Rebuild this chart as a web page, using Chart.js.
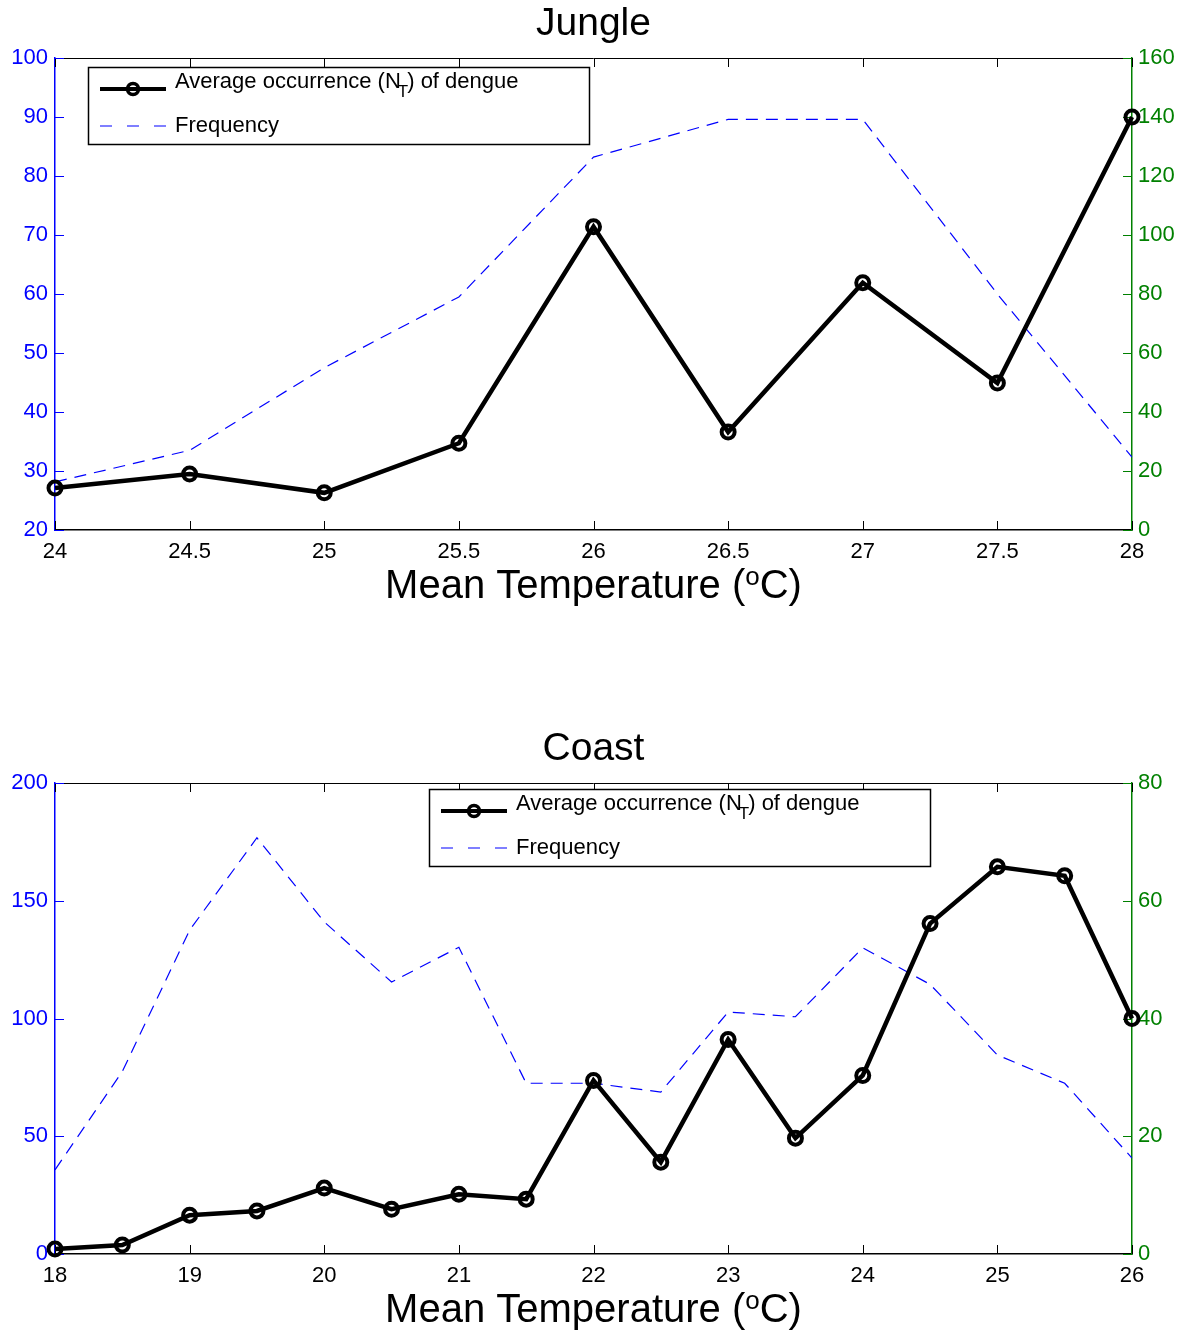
<!DOCTYPE html>
<html>
<head>
<meta charset="utf-8">
<script src="https://cdn.jsdelivr.net/npm/chart.js@4.4.0/dist/chart.umd.min.js"></script>
<style>
    body { margin: 0; background: #fff; }
    .panel { position: absolute; left: 0; width: 1200px; }
</style>
</head>
<body>
<div class="panel" style="top:0;height:700px"><canvas id="jungleChart" width="1200" height="700"></canvas></div>
<div class="panel" style="top:700px;height:638px"><canvas id="coastChart" width="1200" height="638"></canvas></div>
<script>
// Jungle
const jungleTemps = [24, 24.5, 25, 25.5, 26, 26.5, 27, 27.5, 28];
const jungleOccurrence = [27.1, 29.5, 26.3, 34.7, 71.4, 36.6, 61.9, 44.9, 90];
const jungleFrequency = [16.3, 27, 55, 79, 126.4, 139.2, 139.2, 80, 24.7];

// Coast
const coastTemps = [18, 18.5, 19, 19.5, 20, 20.5, 21, 21.5, 22, 22.5, 23, 23.5, 24, 24.5, 25, 25.5, 26];
const coastOccurrence = [2.1, 3.8, 16.5, 18.3, 28, 19, 25.4, 23.3, 73.7, 39, 91.1, 49.2, 75.8, 140.3, 164.4, 160.6, 100];
const coastFrequency = [14.3, 31, 55, 70.7, 56.4, 46.2, 52.1, 29, 29, 27.5, 41.1, 40.3, 52, 45.8, 33.8, 29, 16.3];

const FONT = '"Liberation Sans", Arial, sans-serif';
const BLUE = '#0000ff';
const GREEN = '#008000';

function drawLegend(ctx, x, y) {
    const w = 501, h = 77;
    ctx.save();
    ctx.fillStyle = '#fff';
    ctx.fillRect(x, y, w, h);
    ctx.strokeStyle = '#000';
    ctx.lineWidth = 1.5;
    ctx.strokeRect(x + 0.5, y + 0.5, w, h);

    // row 1: occurrence
    const r1 = y + 22;
    ctx.lineWidth = 4;
    ctx.beginPath();
    ctx.moveTo(x + 12, r1);
    ctx.lineTo(x + 78, r1);
    ctx.stroke();
    ctx.lineWidth = 3.5;
    ctx.beginPath();
    ctx.arc(x + 45, r1, 5.5, 0, Math.PI * 2);
    ctx.stroke();

    ctx.fillStyle = '#000';
    ctx.textBaseline = 'middle';
    ctx.textAlign = 'left';
    ctx.font = '22px ' + FONT;
    let tx = x + 87;
    const t1 = y + 15;
    const a = 'Average occurrence (N';
    ctx.fillText(a, tx, t1);
    tx += ctx.measureText(a).width;
    ctx.font = '17px ' + FONT;
    ctx.fillText('T', tx - 3, t1 + 10);
    tx += ctx.measureText('T').width - 4;
    ctx.font = '22px ' + FONT;
    ctx.fillText(') of dengue', tx, t1);

    // row 2: frequency
    const r2 = y + 59;
    ctx.strokeStyle = BLUE;
    ctx.lineWidth = 1.2;
    ctx.setLineDash([12, 15]);
    ctx.beginPath();
    ctx.moveTo(x + 12, r2);
    ctx.lineTo(x + 78, r2);
    ctx.stroke();
    ctx.setLineDash([]);
    ctx.fillText('Frequency', x + 87, r2);
    ctx.restore();
}

const matlabAxes = {
    id: 'matlabAxes',
    beforeDatasetsDraw(chart) {
        const {ctx, chartArea: a, scales} = chart;
        const len = 9;
        ctx.save();
        ctx.lineWidth = 1;
        ctx.strokeStyle = '#000';
        ctx.beginPath();
        ctx.moveTo(a.left, a.top + 0.5);
        ctx.lineTo(a.right, a.top + 0.5);
        scales.x.ticks.forEach(t => {
            const px = Math.round(scales.x.getPixelForValue(t.value)) + 0.5;
            ctx.moveTo(px, a.bottom);
            ctx.lineTo(px, a.bottom - len);
            ctx.moveTo(px, a.top);
            ctx.lineTo(px, a.top + len);
        });
        ctx.stroke();

        ctx.strokeStyle = BLUE;
        ctx.beginPath();
        scales.y.ticks.forEach(t => {
            const py = Math.round(scales.y.getPixelForValue(t.value)) + 0.5;
            ctx.moveTo(a.left, py);
            ctx.lineTo(a.left + len, py);
        });
        ctx.stroke();

        ctx.strokeStyle = GREEN;
        ctx.beginPath();
        scales.y1.ticks.forEach(t => {
            const py = Math.round(scales.y1.getPixelForValue(t.value)) + 0.5;
            ctx.moveTo(a.right, py);
            ctx.lineTo(a.right - len, py);
        });
        ctx.stroke();
        ctx.restore();
    },
    afterDraw(chart, args, opts) {
        const {ctx, chartArea: a} = chart;
        const cx = (a.left + a.right) / 2;
        ctx.save();
        ctx.fillStyle = '#000';
        ctx.textBaseline = 'middle';
        ctx.textAlign = 'center';
        ctx.font = '39px ' + FONT;
        ctx.fillText(opts.title, cx, a.top - 34);

        // x axis title with superscript o
        const p1 = 'Mean Temperature (', p3 = 'C)';
        ctx.font = '40px ' + FONT;
        const w1 = ctx.measureText(p1).width, w3 = ctx.measureText(p3).width;
        ctx.font = '26px ' + FONT;
        const w2 = ctx.measureText('o').width;
        let x = cx - (w1 + w2 + w3) / 2;
        const y = a.bottom + 57;
        ctx.textAlign = 'left';
        ctx.font = '40px ' + FONT;
        ctx.fillText(p1, x, y);
        x += w1;
        ctx.font = '26px ' + FONT;
        ctx.fillText('o', x, y - 9);
        x += w2;
        ctx.font = '40px ' + FONT;
        ctx.fillText(p3, x, y);
        ctx.restore();

        drawLegend(ctx, a.left + opts.legendLeft, a.top + opts.legendTop);
    }
};

function makeChart(id, temps, occurrence, frequency, cfg) {
    const canvas = document.getElementById(id);
    const tickFont = { family: FONT, size: 22 };
    return new Chart(canvas, {
        type: 'line',
        data: {
            datasets: [{
                label: 'Average occurrence (NT) of dengue',
                data: temps.map((t, i) => ({ x: t, y: occurrence[i] })),
                yAxisID: 'y',
                borderColor: '#000',
                borderWidth: 4.5,
                pointRadius: 6.5,
                pointBorderWidth: 4,
                pointBorderColor: '#000',
                pointBackgroundColor: 'rgba(0,0,0,0)',
                tension: 0,
                clip: false,
                order: 0
            }, {
                label: 'Frequency',
                data: temps.map((t, i) => ({ x: t, y: frequency[i] })),
                yAxisID: 'y1',
                borderColor: BLUE,
                borderWidth: 1.2,
                borderDash: [12, 8],
                pointRadius: 0,
                tension: 0,
                order: 1
            }]
        },
        options: {
            responsive: false,
            animation: false,
            events: [],
            layout: {
                padding: { top: cfg.top, bottom: cfg.bottom, left: 0, right: 0 }
            },
            plugins: {
                legend: { display: false },
                tooltip: { enabled: false },
                title: { display: false },
                matlabAxes: cfg.annot
            },
            scales: {
                x: {
                    type: 'linear',
                    min: cfg.xMin,
                    max: cfg.xMax,
                    afterFit: s => { s.height = 30; },
                    grid: { drawOnChartArea: false, drawTicks: false },
                    border: { color: '#000', width: 1.5 },
                    ticks: {
                        stepSize: cfg.xStep,
                        padding: 9,
                        color: '#000',
                        font: tickFont,
                        maxRotation: 0,
                        autoSkip: false,
                        callback: v => String(v)
                    }
                },
                y: {
                    position: 'left',
                    min: cfg.yMin,
                    max: cfg.yMax,
                    afterFit: s => { s.width = 55; },
                    grid: { drawOnChartArea: false, drawTicks: false },
                    border: { color: BLUE, width: 1.5 },
                    ticks: { stepSize: cfg.yStep, padding: 7, color: BLUE, font: tickFont }
                },
                y1: {
                    position: 'right',
                    min: 0,
                    max: cfg.y1Max,
                    afterFit: s => { s.width = 68; },
                    grid: { drawOnChartArea: false, drawTicks: false },
                    border: { color: GREEN, width: 1.5 },
                    ticks: { stepSize: cfg.y1Step, padding: 6, color: GREEN, font: tickFont }
                }
            }
        },
        plugins: [matlabAxes]
    });
}

document.addEventListener('DOMContentLoaded', function() {
    makeChart('jungleChart', jungleTemps, jungleOccurrence, jungleFrequency, {
        top: 58, bottom: 700 - 530 - 30,
        xMin: 24, xMax: 28, xStep: 0.5,
        yMin: 20, yMax: 100, yStep: 10,
        y1Max: 160, y1Step: 20,
        annot: { title: 'Jungle', legendLeft: 33, legendTop: 9 }
    });
    makeChart('coastChart', coastTemps, coastOccurrence, coastFrequency, {
        top: 83, bottom: 638 - 554 - 30,
        xMin: 18, xMax: 26, xStep: 1,
        yMin: 0, yMax: 200, yStep: 50,
        y1Max: 80, y1Step: 20,
        annot: { title: 'Coast', legendLeft: 374, legendTop: 6 }
    });
});
</script>
</body>
</html>
